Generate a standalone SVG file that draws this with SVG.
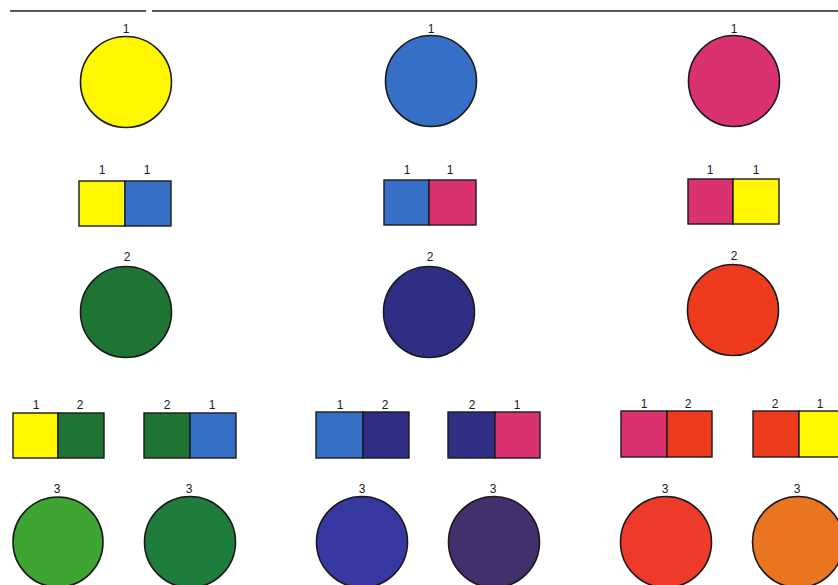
<svg xmlns="http://www.w3.org/2000/svg" width="838" height="585" viewBox="0 0 838 585">
<style>
.c{stroke:#1a1a1a;stroke-width:1.6}
.r{stroke:#1a1a1a;stroke-width:1.4}
.t{font-family:"Liberation Sans",Arial,sans-serif;font-size:12px;fill:#1a1a1a;text-anchor:middle}
.y{fill:#FFF700}.b{fill:#3670C6}.p{fill:#DA3270}
.g2{fill:#1E7432}.n2{fill:#302D84}.o2{fill:#EE3B1E}
.g3a{fill:#3EA432}.g3b{fill:#1E7C3C}.b3a{fill:#3838A2}.b3b{fill:#42306C}.o3a{fill:#EE3B29}.o3b{fill:#EA7520}
</style>
<rect width="838" height="585" fill="#ffffff"/>
<g id="rules" stroke="#222" stroke-width="1.6">
<line x1="10" y1="11" x2="146" y2="11"/>
<line x1="152" y1="11" x2="838" y2="11"/>
</g>
<g id="row1">
<g id="c-yellow"><text class="t" x="126" y="33">1</text><circle class="c y" cx="126" cy="82" r="45.5"/></g>
<g id="c-blue"><text class="t" x="431" y="33">1</text><circle class="c b" cx="431" cy="81" r="45.5"/></g>
<g id="c-pink"><text class="t" x="734" y="33">1</text><circle class="c p" cx="734" cy="81" r="45.5"/></g>
</g>
<g id="row2">
<g id="r-yb"><text class="t" x="102" y="174">1</text><text class="t" x="147" y="174">1</text>
<rect class="r y" x="79" y="181" width="46" height="45"/><rect class="r b" x="125" y="181" width="46" height="45"/></g>
<g id="r-bp"><text class="t" x="407" y="174">1</text><text class="t" x="450" y="174">1</text>
<rect class="r b" x="384" y="180" width="45" height="45"/><rect class="r p" x="429" y="180" width="47" height="45"/></g>
<g id="r-py"><text class="t" x="710" y="174">1</text><text class="t" x="756" y="174">1</text>
<rect class="r p" x="688" y="179" width="45" height="45"/><rect class="r y" x="733" y="179" width="46" height="45"/></g>
</g>
<g id="row3">
<g id="c-green"><text class="t" x="127" y="261">2</text><circle class="c g2" cx="126" cy="312" r="45.5"/></g>
<g id="c-navy"><text class="t" x="430" y="261">2</text><circle class="c n2" cx="429" cy="312" r="45.5"/></g>
<g id="c-orange"><text class="t" x="734" y="260">2</text><circle class="c o2" cx="733" cy="310" r="45.5"/></g>
</g>
<g id="row4">
<g id="r-yg"><text class="t" x="36" y="409">1</text><text class="t" x="80" y="409">2</text>
<rect class="r y" x="13" y="413" width="45" height="45"/><rect class="r g2" x="58" y="413" width="46" height="45"/></g>
<g id="r-gb"><text class="t" x="167" y="409">2</text><text class="t" x="212" y="409">1</text>
<rect class="r g2" x="144" y="413" width="46" height="45"/><rect class="r b" x="190" y="413" width="46" height="45"/></g>
<g id="r-bn"><text class="t" x="340" y="409">1</text><text class="t" x="385" y="409">2</text>
<rect class="r b" x="316" y="412" width="47" height="46"/><rect class="r n2" x="363" y="412" width="46" height="46"/></g>
<g id="r-np"><text class="t" x="472" y="409">2</text><text class="t" x="517" y="409">1</text>
<rect class="r n2" x="448" y="412" width="47" height="46"/><rect class="r p" x="495" y="412" width="45" height="46"/></g>
<g id="r-po"><text class="t" x="644" y="408">1</text><text class="t" x="688" y="408">2</text>
<rect class="r p" x="621" y="411" width="46" height="46"/><rect class="r o2" x="667" y="411" width="45" height="46"/></g>
<g id="r-oy"><text class="t" x="775" y="408">2</text><text class="t" x="820" y="408">1</text>
<rect class="r o2" x="753" y="411" width="46" height="46"/><rect class="r y" x="799" y="411" width="46" height="46"/></g>
</g>
<g id="row5">
<g id="c3-1"><text class="t" x="57" y="493">3</text><circle class="c g3a" cx="58" cy="542" r="45"/></g>
<g id="c3-2"><text class="t" x="189" y="493">3</text><circle class="c g3b" cx="190" cy="542" r="45.5"/></g>
<g id="c3-3"><text class="t" x="362" y="493">3</text><circle class="c b3a" cx="362" cy="542" r="45.5"/></g>
<g id="c3-4"><text class="t" x="493" y="493">3</text><circle class="c b3b" cx="494" cy="542" r="45.5"/></g>
<g id="c3-5"><text class="t" x="665" y="493">3</text><circle class="c o3a" cx="666" cy="542" r="45.5"/></g>
<g id="c3-6"><text class="t" x="797" y="493">3</text><circle class="c o3b" cx="798" cy="542" r="45.5"/></g>
</g>
</svg>
